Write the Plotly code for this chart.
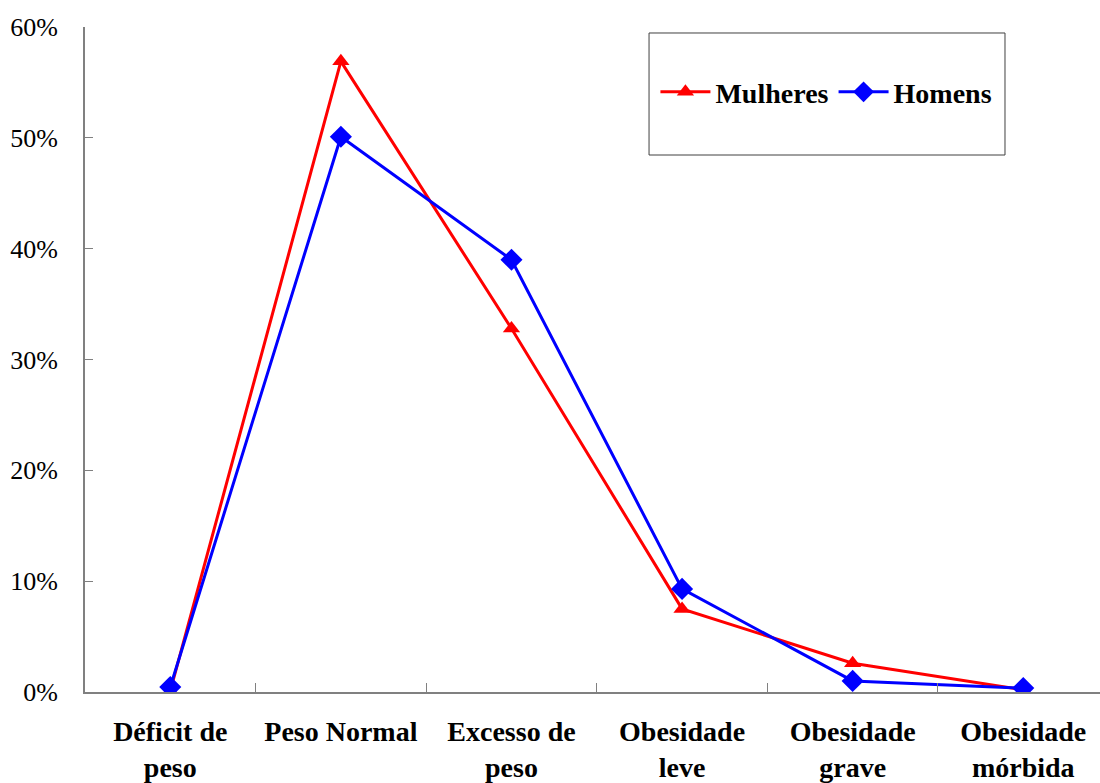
import plotly.graph_objects as go

categories = ['Déficit de<br>peso', 'Peso Normal', 'Excesso de<br>peso',
              'Obesidade<br>leve', 'Obesidade<br>grave', 'Obesidade<br>mórbida']
mulheres = [0.1, 56.9, 32.8, 7.5, 2.6, 0.2]
homens = [0.45, 50.1, 39.0, 9.3, 1.0, 0.35]
y_ticks = [0, 10, 20, 30, 40, 50, 60]

serif = 'Liberation Serif, Times New Roman, serif'

traces = [
    go.Scatter(
        name='Mulheres',
        x=categories,
        y=mulheres,
        mode='lines+markers',
        line=dict(color='#ff0000', width=3),
        marker=dict(symbol='triangle-up', size=15, color='#ff0000'),
    ),
    go.Scatter(
        name='Homens',
        x=categories,
        y=homens,
        mode='lines+markers',
        line=dict(color='#0000ff', width=3),
        marker=dict(symbol='diamond', size=17, color='#0000ff'),
    ),
]

layout = go.Layout(
    width=1100,
    height=783,
    margin=dict(l=85, r=0, t=27, b=91),
    paper_bgcolor='white',
    plot_bgcolor='white',
    font=dict(family=serif, size=26, color='black'),
    showlegend=True,
    legend=dict(
        orientation='h',
        x=0.562, xanchor='left',
        y=0.902, yanchor='middle',
        bgcolor='rgba(0,0,0,0)',
        font=dict(family=serif, size=28, color='black', weight='bold'),
        itemwidth=50,
        tracegroupgap=0,
    ),
    xaxis=dict(
        type='category',
        range=[-0.5, 5.45],
        showline=True,
        linecolor='#808080',
        linewidth=2,
        showgrid=False,
        zeroline=False,
        ticks='inside',
        tickson='boundaries',
        ticklen=9,
        tickcolor='#808080',
        tickwidth=1,
        tickfont=dict(family=serif, size=28, color='black', weight='bold'),
        ticklabelstandoff=13,
    ),
    yaxis=dict(
        range=[0, 60],
        tickvals=y_ticks,
        ticktext=[f'{v}%' for v in y_ticks],
        showline=True,
        linecolor='#808080',
        linewidth=2,
        showgrid=False,
        zeroline=False,
        ticks='inside',
        ticklen=8,
        tickcolor='#808080',
        tickwidth=1,
        tickfont=dict(family=serif, size=26, color='black'),
        ticklabelstandoff=20,
    ),
    shapes=[
        dict(type='rect', xref='paper', yref='paper',
             x0=0.5557, x1=0.9064, y0=0.8075, y1=0.991,
             line=dict(color='#404040', width=1), fillcolor='rgba(0,0,0,0)',
             layer='below'),
    ],
)

fig = go.Figure(data=traces, layout=layout)
fig.write_html('out.html', config={'displayModeBar': False},
               post_script="document.body.style.margin='0';")
